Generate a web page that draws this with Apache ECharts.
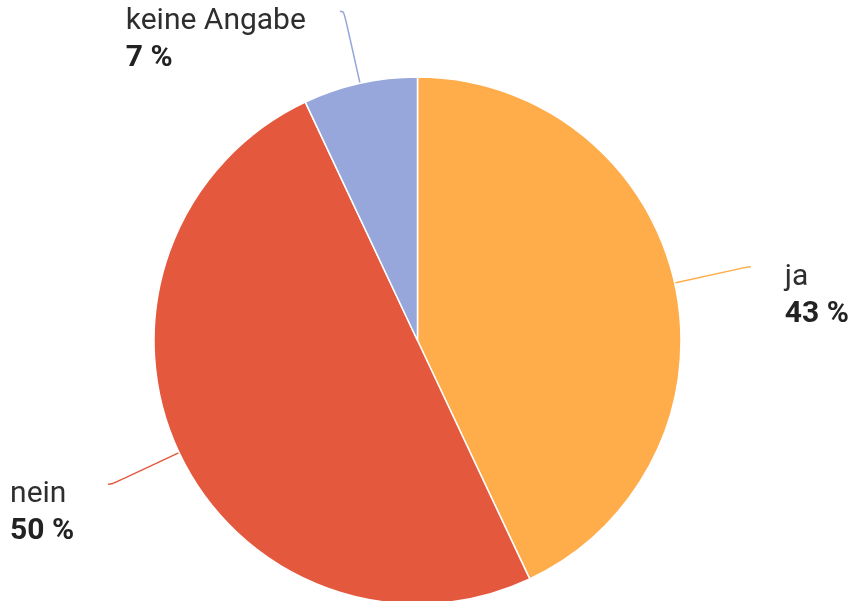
<!DOCTYPE html>
<html>
<head>
<meta charset="utf-8">
<script src="https://cdn.jsdelivr.net/npm/echarts@6/dist/echarts.min.js"></script>
<style>
  html, body { margin: 0; padding: 0; background: #fff; }
  #pie { width: 853px; height: 601px; }
</style>
</head>
<body>
<div id="pie"></div>
<script>
// Daten
const categories = ['ja', 'nein', 'keine Angabe']
const values = [43, 50, 7]
const colors = ['#FFAD4B', '#E4593E', '#97A7DB']

const pieData = categories.map((name, i) => ({
  name: name,
  value: values[i],
  itemStyle: { color: colors[i] }
}))

const option = {
  backgroundColor: '#fff',
  animation: false,
  textStyle: { fontFamily: 'Roboto' },
  series: [
    {
      type: 'pie',
      center: [417.5, 340.5],
      radius: 263.5,
      startAngle: 90,
      clockwise: true,
      data: pieData,
      itemStyle: {
        borderColor: '#fff',
        borderWidth: 1.5
      },
      label: {
        show: true,
        position: 'outside',
        overflow: 'none',
        distanceToLabelLine: 34,
        padding: [58, 0, 0, 0],
        formatter: '{n|{b}}\n{v|{c} %}',
        rich: {
          n: { fontSize: 30, lineHeight: 37, color: '#2e2e2e', fontFamily: 'Roboto', align: 'left' },
          v: { fontSize: 30, lineHeight: 37, color: '#222', fontWeight: 'bold', fontFamily: 'Roboto', align: 'left' }
        }
      },
      labelLine: {
        show: true,
        length: 74,
        length2: 4,
        smooth: 0.5,
        lineStyle: { width: 1.5 }
      }
    }
  ]
}

let pieChart = echarts.init(document.getElementById('pie'))
pieChart.setOption(option)
</script>
</body>
</html>
